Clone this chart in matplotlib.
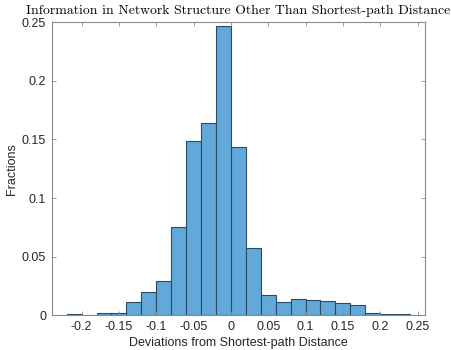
import matplotlib
matplotlib.use('Agg')
import matplotlib.pyplot as plt
from matplotlib.ticker import FormatStrFormatter

# histogram bins (left edges, width 0.02) and fraction per bin
bin_edges = [-0.22, -0.20, -0.18, -0.16, -0.14, -0.12, -0.10, -0.08, -0.06, -0.04,
             -0.02, 0.00, 0.02, 0.04, 0.06, 0.08, 0.10, 0.12, 0.14, 0.16,
             0.18, 0.20, 0.22, 0.24]
fractions = [0.0012, 0.0, 0.0018, 0.0019, 0.0113, 0.0198, 0.0290, 0.0750, 0.1485, 0.1640,
             0.2470, 0.1437, 0.0575, 0.0178, 0.0112, 0.0143, 0.0133, 0.0122, 0.0105, 0.0093,
             0.0025, 0.0012, 0.0012]
x_ticks = [-0.2, -0.15, -0.1, -0.05, 0, 0.05, 0.1, 0.15, 0.2, 0.25]
y_ticks = [0, 0.05, 0.1, 0.15, 0.2, 0.25]

plt.rcParams['axes.unicode_minus'] = False
plt.rcParams['font.family'] = ['Liberation Sans', 'DejaVu Sans']

axis_grey = '#8a8a8a'
text_dark = '#262626'

fig = plt.figure(figsize=(4.52, 3.5), dpi=100, facecolor='white')
ax = fig.add_axes([0.1144, 0.0986, 0.8259, 0.8385])

ax.hist(bin_edges[:-1], bins=bin_edges, weights=fractions,
        color='#62a9d9', edgecolor='#2a4b66', linewidth=0.8)

ax.set_xlim(-0.24, 0.26)
ax.set_ylim(0, 0.25)
ax.set_xticks(x_ticks)
ax.set_yticks(y_ticks)
ax.xaxis.set_major_formatter(FormatStrFormatter('%g'))
ax.yaxis.set_major_formatter(FormatStrFormatter('%g'))

ax.tick_params(direction='in', length=3, width=0.6, color=axis_grey,
               labelsize=9, labelcolor=text_dark, top=True, right=True, pad=4)
for sp in ax.spines.values():
    sp.set_color(axis_grey)
    sp.set_linewidth(0.8)

ax.set_xlabel('Deviations from Shortest-path Distance', fontsize=9, color=text_dark, labelpad=3)
ax.set_ylabel('Fractions', fontsize=9, color=text_dark, labelpad=3)
ax.set_title('Information in Network Structure Other Than Shortest-path Distance',
             fontsize=9.9, family='cmr10', color='black', pad=6)

fig.savefig('out.png', dpi=100, facecolor='white')
